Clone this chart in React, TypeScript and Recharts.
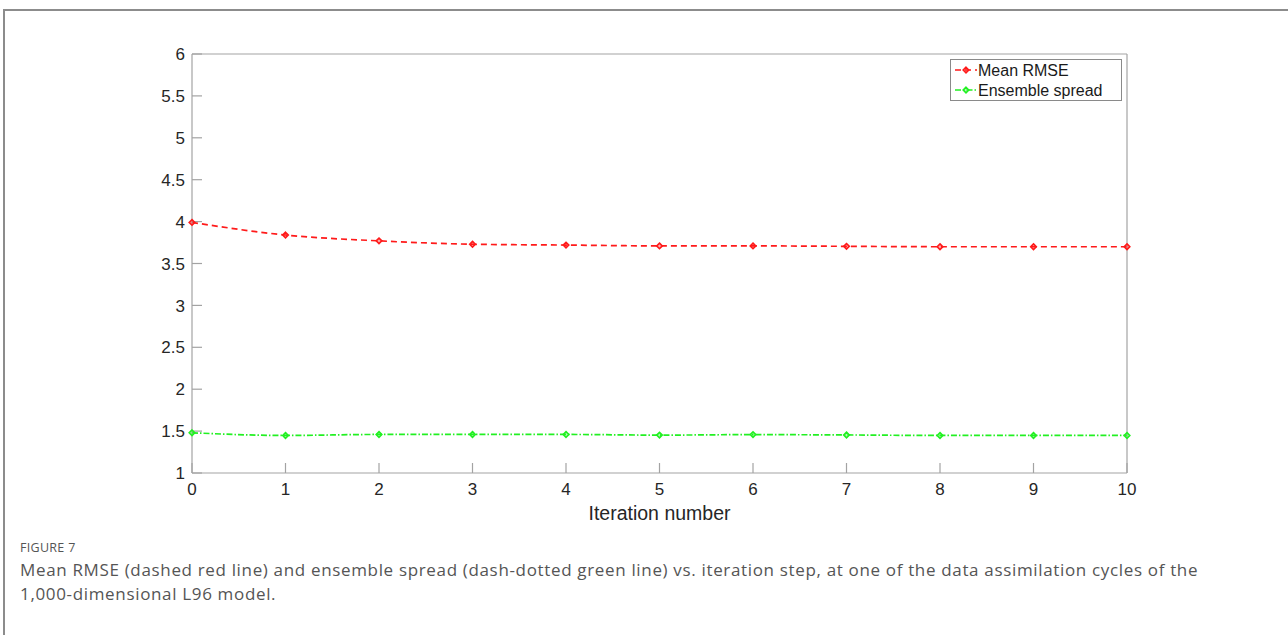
import React from "react";
import { LineChart, Line, XAxis, YAxis } from "recharts";

// Values (iteration 0..10)
const iterations = [0, 1, 2, 3, 4, 5, 6, 7, 8, 9, 10];
const meanRmse = [3.99, 3.84, 3.77, 3.73, 3.72, 3.71, 3.71, 3.705, 3.7, 3.7, 3.7];
const ensembleSpread = [1.48, 1.448, 1.46, 1.46, 1.46, 1.452, 1.458, 1.454, 1.448, 1.448, 1.448];

const xTicks = [0, 1, 2, 3, 4, 5, 6, 7, 8, 9, 10];
const yTicks = [1, 1.5, 2, 2.5, 3, 3.5, 4, 4.5, 5, 5.5, 6];

const seriesNames = ["Mean RMSE", "Ensemble spread"];
const seriesColors = ["#ff1a1a", "#22f022"];
const seriesDash = ["6 4", "6 2 1.5 2"];

const data = iterations.map((it, i) => ({
  it,
  rmse: meanRmse[i],
  spread: ensembleSpread[i],
}));

const AXIS = "#a3a3a3";
const TICK_FONT = "Liberation Sans, Arial, Helvetica, sans-serif";

// MATLAB-style small diamond marker
function Diamond({ cx, cy, color }: { cx?: number; cy?: number; color: string }) {
  if (cx == null || cy == null) return null;
  const r = 2.8;
  return (
    <path
      d={`M${cx},${cy - r} L${cx + r},${cy} L${cx},${cy + r} L${cx - r},${cy} Z`}
      fill={color}
      fillOpacity={0.35}
      stroke={color}
      strokeWidth={1.6}
    />
  );
}

function XTick({ x, y, payload }: any) {
  return (
    <text x={x} y={y} dy="0.71em" textAnchor="middle" fontSize={17} fill="#262626" fontFamily={TICK_FONT}>
      {payload.value}
    </text>
  );
}

function YTick({ x, y, payload }: any) {
  return (
    <text x={x} y={y} dy="0.36em" textAnchor="end" fontSize={17} fill="#262626" fontFamily={TICK_FONT}>
      {payload.value}
    </text>
  );
}

export default function App() {
  return (
    <div
      style={{
        position: "absolute",
        left: 0,
        top: 0,
        width: 1288,
        height: 635,
        background: "#fff",
        overflow: "hidden",
      }}
    >
      {/* figure frame */}
      <div
        style={{
          position: "absolute",
          left: 3,
          top: 9,
          width: 1290,
          height: 640,
          borderTop: "2px solid #8c8c8c",
          borderLeft: "2px solid #8c8c8c",
        }}
      />

      <div style={{ position: "absolute", left: 0, top: 0 }}>
        <LineChart
          width={1288}
          height={540}
          data={data}
          margin={{ top: 53, right: 160, bottom: 7, left: 132 }}
        >
          <XAxis
            dataKey="it"
            type="number"
            domain={[0, 10]}
            ticks={xTicks}
            height={60}
            stroke={AXIS}
            strokeWidth={1.2}
            tickSize={-10}
            tickMargin={20}
            tick={<XTick />}
            label={{
              value: "Iteration number",
              position: "insideBottom",
              offset: 13,
              style: { fontSize: 19.5, fill: "#262626", fontFamily: TICK_FONT },
            }}
          />
          <XAxis
            xAxisId="top"
            orientation="top"
            dataKey="it"
            type="number"
            domain={[0, 10]}
            ticks={xTicks}
            height={1}
            stroke={AXIS}
            strokeWidth={1.2}
            tickSize={-10}
            tick={false}
          />
          <YAxis
            type="number"
            domain={[1, 6]}
            ticks={yTicks}
            width={60}
            stroke={AXIS}
            strokeWidth={1.2}
            tickSize={-10}
            tickMargin={17}
            tick={<YTick />}
            interval={0}
          />
          <YAxis
            yAxisId="right"
            orientation="right"
            type="number"
            domain={[1, 6]}
            ticks={yTicks}
            width={1}
            stroke={AXIS}
            strokeWidth={1.2}
            tickSize={-10}
            tick={false}
            interval={0}
          />
          <Line
            type="monotone"
            dataKey="rmse"
            name={seriesNames[0]}
            stroke={seriesColors[0]}
            strokeWidth={1.7}
            strokeDasharray={seriesDash[0]}
            dot={(p: any) => <Diamond key={`r${p.index}`} cx={p.cx} cy={p.cy} color={seriesColors[0]} />}
            isAnimationActive={false}
          />
          <Line
            type="monotone"
            dataKey="spread"
            name={seriesNames[1]}
            stroke={seriesColors[1]}
            strokeWidth={1.7}
            strokeDasharray={seriesDash[1]}
            dot={(p: any) => <Diamond key={`g${p.index}`} cx={p.cx} cy={p.cy} color={seriesColors[1]} />}
            isAnimationActive={false}
          />
        </LineChart>
      </div>

      {/* legend box */}
      <svg width={174} height={43} style={{ position: "absolute", left: 950, top: 59 }}>
        <rect x={0.5} y={0.5} width={171} height={41} fill="#fff" stroke="#8a8a8a" strokeWidth={1} />
        {seriesNames.map((name, i) => {
          const cy = 11 + i * 20;
          return (
            <g key={name}>
              <line
                x1={5}
                x2={27}
                y1={cy}
                y2={cy}
                stroke={seriesColors[i]}
                strokeWidth={1.6}
                strokeDasharray={seriesDash[i]}
              />
              <Diamond cx={16} cy={cy} color={seriesColors[i]} />
              <text x={28} y={cy} dy="0.36em" fontSize={16} fill="#1a1a1a" fontFamily={TICK_FONT}>
                {name}
              </text>
            </g>
          );
        })}
      </svg>

      {/* caption */}
      <div
        style={{
          position: "absolute",
          left: 20,
          top: 539,
          fontFamily: "'Open Sans', 'Noto Sans', sans-serif",
          color: "#555",
        }}
      >
        <div style={{ fontSize: 12.5, lineHeight: "18px", letterSpacing: 0.3 }}>FIGURE 7</div>
        <div style={{ fontSize: 17, lineHeight: "24px", whiteSpace: "nowrap", marginTop: 1, letterSpacing: 0.66 }}>
          Mean RMSE (dashed red line) and ensemble spread (dash-dotted green line) vs. iteration step, at one of the data assimilation cycles of the
        </div>
        <div style={{ fontSize: 17, lineHeight: "24px", whiteSpace: "nowrap", letterSpacing: 0.66 }}>
          1,000-dimensional L96 model.
        </div>
      </div>
    </div>
  );
}
